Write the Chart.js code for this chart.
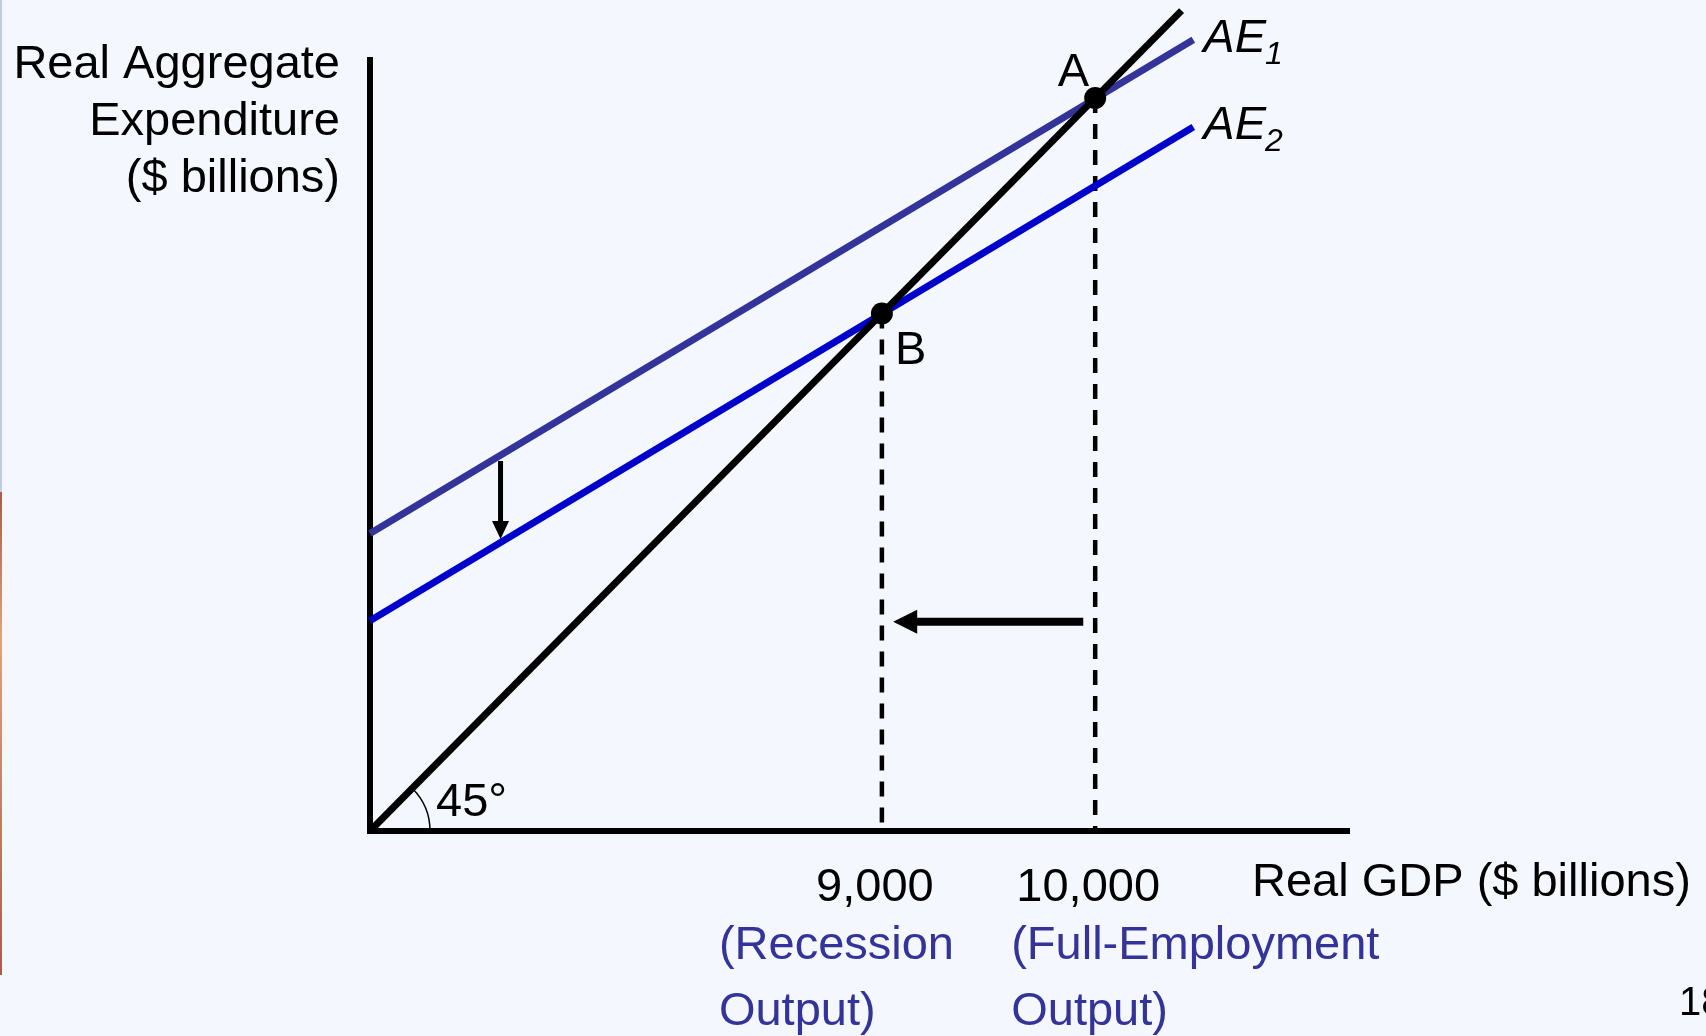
<!DOCTYPE html>
<html>
<head>
<meta charset="utf-8">
<script src="https://cdn.jsdelivr.net/npm/chart.js@4.4.1/dist/chart.umd.min.js"></script>
<style>
  html, body { margin: 0; padding: 0; background: #F4F7FD; }
  #wrap { width: 1706px; height: 1036px; position: relative; }
  canvas { display: block; }
</style>
</head>
<body>
<div id="wrap"><canvas id="chart" width="1706" height="1036"></canvas></div>
<script>
// Keynesian cross: a fall in aggregate expenditure moves equilibrium from A to B
const gdpTicks = [9000, 10000];               // labelled Real GDP values
const tickNotes = [["(Recession", "Output)"], ["(Full-Employment", "Output)"]];
const axisMin = 6600;
const xAxisMax = 11190;
const yAxisMax = 10176;

const diagonalX = [6600, 10405];              // 45-degree line Y = AE
const diagonalY = [6600, 10405];
const aeX = [6600, 10460];                    // both AE lines share these x values
const ae1Y = [7980, 10270];                   // AE1 (before the shift)
const ae2Y = [7575, 9865];                    // AE2 (after the shift)

const equilibriumX = [9000, 10000];           // B, A
const equilibriumY = [9000, 10000];
const equilibriumNames = ["B", "A"];

const shiftArrowX = [7212, 7212];             // AE1 -> AE2
const shiftArrowY = [8316, 7954];
const outputArrowX = [9944, 9053];            // 10,000 -> 9,000
const outputArrowY = [7570, 7570];

const FONT = "'Liberation Sans', Arial, Helvetica, sans-serif";
const AE1_COLOR = "#333399";
const AE2_COLOR = "#0000CC";
const NOTE_COLOR = "#333399";

const pts = (xs, ys) => xs.map((x, i) => ({ x, y: ys[i] }));

const drawingPlugin = {
  id: "drawing",
  beforeDraw(chart) {
    const ctx = chart.ctx;
    ctx.save();
    ctx.fillStyle = "#F4F7FD";
    ctx.fillRect(0, 0, chart.width, chart.height);
    // thin slide edge on the left
    ctx.fillStyle = "#C3CCE0";
    ctx.fillRect(0, 0, 2, 492);
    const g = ctx.createLinearGradient(0, 492, 0, 975);
    g.addColorStop(0, "#B05A4A");
    g.addColorStop(0.3, "#E8A070");
    g.addColorStop(1, "#C05050");
    ctx.fillStyle = g;
    ctx.fillRect(0, 492, 2, 483);
    ctx.restore();
  },
  afterDatasetsDraw(chart) {
    const ctx = chart.ctx;
    const xs = chart.scales.x, ys = chart.scales.y;
    const arrow = (ax, ay, width, headLen, headWidth) => {
      const x0 = xs.getPixelForValue(ax[0]), y0 = ys.getPixelForValue(ay[0]);
      const x1 = xs.getPixelForValue(ax[1]), y1 = ys.getPixelForValue(ay[1]);
      const len = Math.hypot(x1 - x0, y1 - y0);
      const ux = (x1 - x0) / len, uy = (y1 - y0) / len;
      const bx = x1 - ux * headLen, by = y1 - uy * headLen;
      ctx.save();
      ctx.strokeStyle = "#000";
      ctx.fillStyle = "#000";
      ctx.lineWidth = width;
      ctx.beginPath();
      ctx.moveTo(x0, y0);
      ctx.lineTo(bx + ux * 2, by + uy * 2);
      ctx.stroke();
      ctx.beginPath();
      ctx.moveTo(x1, y1);
      ctx.lineTo(bx - uy * headWidth / 2, by + ux * headWidth / 2);
      ctx.lineTo(bx + uy * headWidth / 2, by - ux * headWidth / 2);
      ctx.closePath();
      ctx.fill();
      ctx.restore();
    };
    arrow(shiftArrowX, shiftArrowY, 5, 18, 17);
    arrow(outputArrowX, outputArrowY, 8, 24, 24);

    // 45 degree angle marker at the origin
    const ox = xs.getPixelForValue(axisMin), oy = ys.getPixelForValue(axisMin);
    ctx.save();
    ctx.strokeStyle = "#000";
    ctx.lineWidth = 1.5;
    ctx.beginPath();
    ctx.arc(ox, oy, 60, -Math.PI / 4, 0);
    ctx.stroke();
    ctx.restore();
  },
  afterDraw(chart) {
    const ctx = chart.ctx;
    const xs = chart.scales.x, ys = chart.scales.y;
    ctx.save();
    ctx.fillStyle = "#000";
    ctx.textBaseline = "alphabetic";

    // y-axis title
    ctx.font = `47px ${FONT}`;
    ctx.textAlign = "right";
    ["Real Aggregate", "Expenditure", "($ billions)"].forEach((t, i) => {
      ctx.fillText(t, 340, 78 + i * 57);
    });

    // x-axis title
    ctx.textAlign = "left";
    ctx.fillText("Real GDP ($ billions)", 1252, 896);

    // angle label
    ctx.fillText("45°", xs.getPixelForValue(axisMin) + 66, ys.getPixelForValue(axisMin) - 15);

    // equilibrium point labels
    const bx = xs.getPixelForValue(equilibriumX[0]), by = ys.getPixelForValue(equilibriumY[0]);
    const ax = xs.getPixelForValue(equilibriumX[1]), ay = ys.getPixelForValue(equilibriumY[1]);
    ctx.textAlign = "left";
    ctx.fillText(equilibriumNames[0], bx + 13, by + 50);
    ctx.textAlign = "right";
    ctx.fillText(equilibriumNames[1], ax - 6, ay - 12);

    // curve labels with subscripts
    ctx.textAlign = "left";
    const curveLabel = (sub, yVals) => {
      const px = xs.getPixelForValue(aeX[1]) + 10;
      const py = ys.getPixelForValue(yVals[1]) + 12;
      ctx.font = `italic 47px ${FONT}`;
      ctx.fillText("AE", px, py);
      const w = ctx.measureText("AE").width;
      ctx.font = `italic 32px ${FONT}`;
      ctx.fillText(sub, px + w - 1, py + 12);
    };
    curveLabel("1", ae1Y);
    curveLabel("2", ae2Y);

    // notes under the tick labels
    ctx.font = `47px ${FONT}`;
    ctx.fillStyle = NOTE_COLOR;
    const noteShift = [-163, -84];
    gdpTicks.forEach((v, i) => {
      const px = xs.getPixelForValue(v) + noteShift[i];
      ctx.fillText(tickNotes[i][0], px, 959);
      ctx.fillText(tickNotes[i][1], px, 1025);
    });

    // slide number
    ctx.fillStyle = "#000";
    ctx.font = `40px ${FONT}`;
    ctx.fillText("18", 1679, 1015);
    ctx.restore();
  }
};

new Chart(document.getElementById("chart"), {
  type: "scatter",
  data: {
    datasets: [
      {
        label: "Equilibrium",
        data: pts(equilibriumX, equilibriumY),
        showLine: false,
        pointRadius: 11,
        pointBackgroundColor: "#000",
        pointBorderColor: "#000",
        pointBorderWidth: 0,
        clip: false
      },
      {
        label: "45-degree line",
        data: pts(diagonalX, diagonalY),
        showLine: true,
        borderColor: "#000",
        borderWidth: 7,
        pointRadius: 0,
        clip: false
      },
      {
        label: "AE1",
        data: pts(aeX, ae1Y),
        showLine: true,
        borderColor: AE1_COLOR,
        borderWidth: 7,
        pointRadius: 0,
        clip: false
      },
      {
        label: "AE2",
        data: pts(aeX, ae2Y),
        showLine: true,
        borderColor: AE2_COLOR,
        borderWidth: 7,
        pointRadius: 0,
        clip: false
      },
      {
        label: "Recession output",
        data: pts([equilibriumX[0], equilibriumX[0]], [equilibriumY[0], axisMin]),
        showLine: true,
        borderColor: "#000",
        borderWidth: 4.5,
        borderDash: [15, 11],
        pointRadius: 0,
        clip: false
      },
      {
        label: "Full-employment output",
        data: pts([equilibriumX[1], equilibriumX[1]], [equilibriumY[1], axisMin]),
        showLine: true,
        borderColor: "#000",
        borderWidth: 4.5,
        borderDash: [15, 11],
        pointRadius: 0,
        clip: false
      }
    ]
  },
  options: {
    responsive: false,
    animation: false,
    devicePixelRatio: 1,
    layout: { padding: { left: 0, top: 60, right: 357, bottom: 0 } },
    plugins: {
      legend: { display: false },
      tooltip: { enabled: false },
      title: { display: false }
    },
    scales: {
      x: {
        type: "linear",
        min: axisMin,
        max: xAxisMax,
        grid: { display: false, drawTicks: false },
        border: { display: true, color: "#000", width: 6 },
        afterBuildTicks: (s) => { s.ticks = gdpTicks.map(v => ({ value: v })); },
        afterFit: (s) => { s.height = 205; },
        ticks: {
          autoSkip: false,
          maxRotation: 0,
          padding: 34,
          labelOffset: -7,
          color: "#000",
          font: { family: FONT, size: 47, lineHeight: 1 },
          callback: (v) => Number(v).toLocaleString("en-US")
        }
      },
      y: {
        type: "linear",
        min: axisMin,
        max: yAxisMax,
        grid: { display: false, drawTicks: false },
        border: { display: true, color: "#000", width: 6 },
        ticks: { display: false },
        afterFit: (s) => { s.width = 370; }
      }
    }
  },
  plugins: [drawingPlugin]
});
</script>
</body>
</html>
